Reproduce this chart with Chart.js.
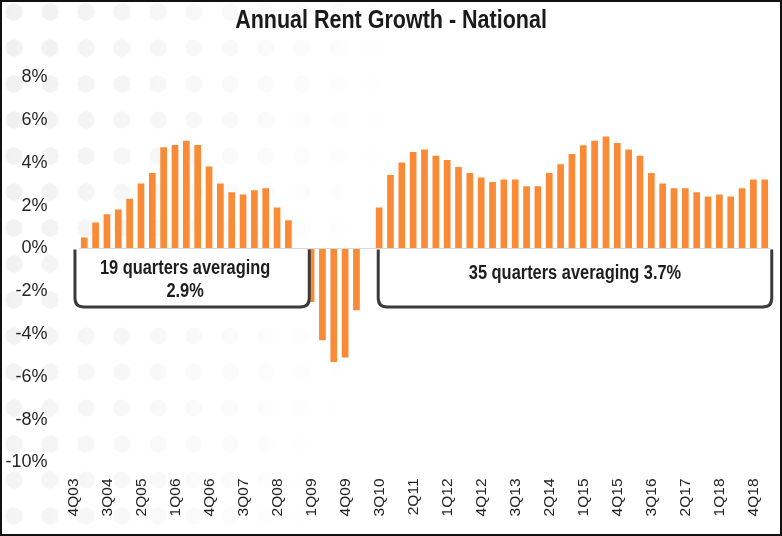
<!DOCTYPE html>
<html>
<head>
<meta charset="utf-8">
<script src="https://cdn.jsdelivr.net/npm/chart.js@4.4.1/dist/chart.umd.min.js"></script>
<style>
  html, body { margin: 0; padding: 0; background: #ffffff; }
  #wrap { position: relative; width: 782px; height: 536px; box-sizing: border-box;
          border: 2px solid #111; overflow: hidden; background: #fff; }
  #dots { position: absolute; left: 0; top: 0; width: 778px; height: 532px;
          background-image: radial-gradient(circle, #f0f0f0 0, #f0f0f0 8px, rgba(255,255,255,0) 9px);
          background-size: 36px 36px; background-position: -6px -8px;
          -webkit-mask-image: linear-gradient(100deg, rgba(0,0,0,1) 0%, rgba(0,0,0,0.5) 22%, rgba(0,0,0,0) 48%);
          mask-image: linear-gradient(100deg, rgba(0,0,0,1) 0%, rgba(0,0,0,0.5) 22%, rgba(0,0,0,0) 48%); }
  canvas { position: absolute; left: 0; top: 0; display: block; }
</style>
</head>
<body>
<div id="wrap"><div id="dots"></div><canvas id="c" width="778" height="532"></canvas></div>
<script>
// ---------- data ----------
const categories = [
  "4Q03","1Q04","2Q04","3Q04","4Q04","1Q05","2Q05","3Q05","4Q05",
  "1Q06","2Q06","3Q06","4Q06","1Q07","2Q07","3Q07","4Q07",
  "1Q08","2Q08","3Q08","4Q08","1Q09","2Q09","3Q09","4Q09",
  "1Q10","2Q10","3Q10","4Q10","1Q11","2Q11","3Q11","4Q11",
  "1Q12","2Q12","3Q12","4Q12","1Q13","2Q13","3Q13","4Q13",
  "1Q14","2Q14","3Q14","4Q14","1Q15","2Q15","3Q15","4Q15",
  "1Q16","2Q16","3Q16","4Q16","1Q17","2Q17","3Q17","4Q17",
  "1Q18","2Q18","3Q18","4Q18"
];
const rentGrowth = [
  0.51, 1.21, 1.60, 1.82, 2.32, 3.04, 3.53, 4.73, 4.84,
  5.03, 4.84, 3.83, 3.04, 2.63, 2.52, 2.72, 2.82,
  1.92, 1.32, 0.00, -2.50, -4.29, -5.30, -5.09, -2.88,
  0.00, 1.92, 3.43, 4.02, 4.51, 4.63, 4.33, 4.13,
  3.81, 3.53, 3.32, 3.11, 3.22, 3.22, 2.91, 2.91,
  3.53, 3.94, 4.42, 4.83, 5.03, 5.23, 4.93, 4.63,
  4.33, 3.53, 3.04, 2.82, 2.82, 2.63, 2.43, 2.52,
  2.43, 2.82, 3.22, 3.22
];
const yTickValues = [-10, -8, -6, -4, -2, 0, 2, 4, 6, 8];
const chartTitle = 'Annual Rent Growth - National';
const bracketStart = [-0.82, 25.92];       // fractional category positions
const bracketEnd   = [19.84, 60.62];
const bracketBottom = [-2.73, -2.73];      // value (%) of bracket bottom
const bracketText  = [["19 quarters averaging", "2.9%"], ["35 quarters averaging 3.7%"]];
const bracketTextY = [[-0.92, -2.03], [-1.16]];
const bracketTextShift = [-7, 0];

const REG = "'Liberation Sans', Arial, sans-serif";

function narrowText(ctx, s, x, y, font, sx) {
  ctx.save();
  ctx.translate(x, y);
  ctx.scale(sx, 1);
  ctx.font = font;
  ctx.fillText(s, 0, 0);
  ctx.restore();
}

const titlePlugin = {
  id: 'narrowTitle',
  afterDraw(chart) {
    const ctx = chart.ctx;
    ctx.save();
    ctx.fillStyle = '#1a1a1a';
    ctx.textAlign = 'center';
    ctx.textBaseline = 'alphabetic';
    narrowText(ctx, chartTitle, chart.width / 2, 26, "bold 25px " + REG, 0.86);
    ctx.restore();
  }
};

const bracketPlugin = {
  id: 'brackets',
  afterDatasetsDraw(chart) {
    const ctx = chart.ctx, xs = chart.scales.x, ys = chart.scales.y;
    const p0 = xs.getPixelForValue(0), w = xs.getPixelForValue(1) - p0;
    for (let i = 0; i < bracketStart.length; i++) {
      const l = p0 + bracketStart[i] * w, r = p0 + bracketEnd[i] * w;
      const t = ys.getPixelForValue(0) + 1, b = ys.getPixelForValue(bracketBottom[i]);
      const rad = 9;
      ctx.save();
      ctx.beginPath();
      ctx.moveTo(l, t);
      ctx.lineTo(l, b - rad);
      ctx.quadraticCurveTo(l, b, l + rad, b);
      ctx.lineTo(r - rad, b);
      ctx.quadraticCurveTo(r, b, r, b - rad);
      ctx.lineTo(r, t);
      ctx.fillStyle = '#ffffff';
      ctx.fill();
      ctx.lineWidth = 3;
      ctx.strokeStyle = '#3b3b3b';
      ctx.stroke();
      ctx.fillStyle = '#1e1e1e';
      ctx.textAlign = 'center';
      ctx.textBaseline = 'middle';
      const cx = (l + r) / 2 + bracketTextShift[i];
      bracketText[i].forEach((s, k) =>
        narrowText(ctx, s, cx, ys.getPixelForValue(bracketTextY[i][k]), "bold 20px " + REG, 0.82));
      ctx.restore();
    }
  }
};

new Chart(document.getElementById('c'), {
  type: 'bar',
  data: {
    labels: categories,
    datasets: [{
      data: rentGrowth,
      backgroundColor: '#F98A36',
      barPercentage: 0.59,
      categoryPercentage: 1.0
    }]
  },
  options: {
    responsive: false,
    animation: false,
    events: [],
    layout: { padding: { left: 0, right: 9.6, top: 75.3, bottom: 0 } },
    plugins: {
      legend: { display: false },
      tooltip: { enabled: false },
      title: { display: false }
    },
    scales: {
      x: {
        grid: { display: false },
        border: { display: false },
        ticks: {
          autoSkip: false,
          maxRotation: 90,
          minRotation: 90,
          labelOffset: -11,
          padding: 8,
          color: '#262626',
          font: { family: REG, size: 15.5 },
          callback: (v, i) => (i % 3 === 0 ? categories[i] : '')
        },
        afterFit: s => { s.height = 71.5; s.paddingLeft = 0; s.paddingRight = 0; }
      },
      y: {
        min: -10, max: 8,
        afterBuildTicks: s => { s.ticks = yTickValues.map(v => ({ value: v })); },
        grid: {
          drawTicks: false,
          color: c => (c.tick && c.tick.value === 0 ? '#d9d9d9' : 'rgba(0,0,0,0)')
        },
        border: { display: false },
        ticks: {
          padding: 31,
          color: '#262626',
          font: { family: REG, size: 18 },
          callback: v => v + '%'
        },
        afterFit: s => { s.width = 76.6; s.paddingTop = 0; s.paddingBottom = 0; }
      }
    }
  },
  plugins: [bracketPlugin, titlePlugin]
});
</script>
</body>
</html>
